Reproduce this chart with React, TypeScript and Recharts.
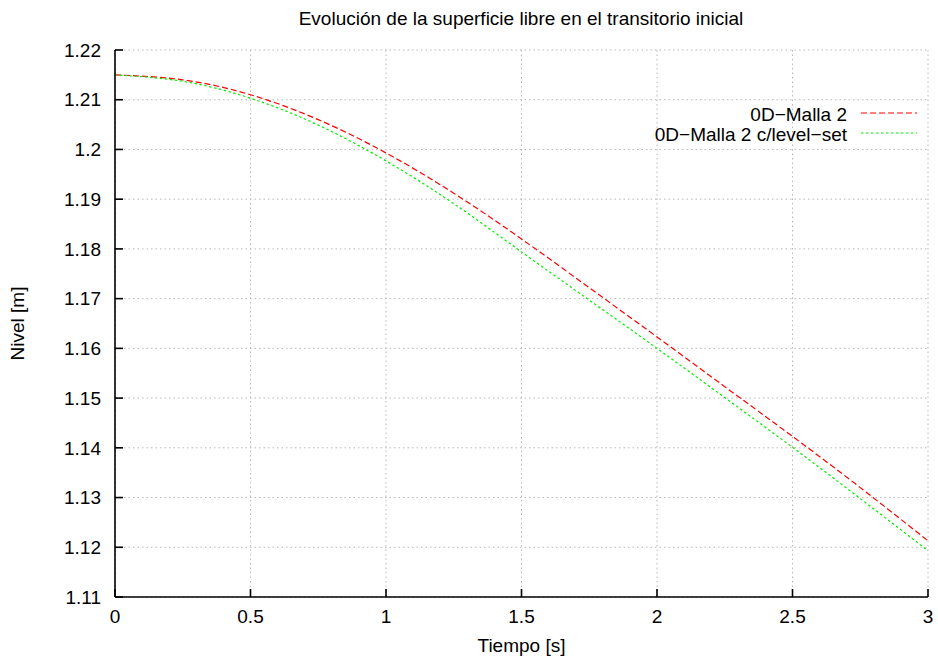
import {
  CartesianGrid,
  Line,
  LineChart,
  XAxis,
  YAxis,
} from 'recharts'

// tiempo [s] y nivel [m]
const tiempo = [0, 0.25, 0.5, 0.75, 1, 1.25, 1.5, 1.75, 2, 2.25, 2.5, 2.75, 3]
const nivelMalla2 = [
  1.215, 1.214, 1.211, 1.206, 1.1993, 1.1912, 1.182, 1.1722, 1.1623, 1.1523,
  1.1423, 1.132, 1.1213,
]
const nivelLevelSet = [
  1.215, 1.2137, 1.2103, 1.2049, 1.1977, 1.1891, 1.1794, 1.1697, 1.16,
  1.1501, 1.1401, 1.1298, 1.1193,
]

const xTicks = [0, 0.5, 1, 1.5, 2, 2.5, 3]
const yTicks = [
  1.11, 1.12, 1.13, 1.14, 1.15, 1.16, 1.17, 1.18, 1.19, 1.2, 1.21, 1.22,
]

const title = 'Evolución de la superficie libre en el transitorio inicial'

const series = [
  { key: 'malla2', name: '0D\u2212Malla 2', color: '#ff0000', dash: '6 3' },
  {
    key: 'levelSet',
    name: '0D\u2212Malla 2 c/level\u2212set',
    color: '#00ee00',
    dash: '2.5 2.5',
  },
]

const data = tiempo.map((t, i) => ({
  t,
  malla2: nivelMalla2[i],
  levelSet: nivelLevelSet[i],
}))

const FONT = '"Liberation Sans", Arial, Helvetica, sans-serif'
const tickStyle = { fontSize: 19, fill: '#000' }
const frame = { stroke: '#000', strokeWidth: 1.6 }

export default function App() {
  return (
    <div
      style={{
        position: 'absolute',
        left: 0,
        top: 0,
        width: 938,
        height: 659,
        background: '#fff',
        fontFamily: FONT,
      }}
    >
      <LineChart
        width={938}
        height={659}
        data={data}
        margin={{ top: 50, right: 10, bottom: 0, left: 0 }}
      >
        <CartesianGrid stroke="#b8b8b8" strokeDasharray="1.5 3" />
        <XAxis
          dataKey="t"
          type="number"
          domain={[0, 3]}
          ticks={xTicks}
          height={62}
          tickSize={-8}
          tickMargin={21}
          tick={tickStyle}
          stroke="#000"
          axisLine={frame}
          tickLine={frame}
          tickFormatter={(v) => String(v)}
          label={{
            value: 'Tiempo [s]',
            position: 'insideBottom',
            offset: 7,
            style: { fontSize: 19, fill: '#000' },
          }}
        />
        <XAxis
          xAxisId="top"
          orientation="top"
          dataKey="t"
          type="number"
          domain={[0, 3]}
          ticks={xTicks}
          height={0}
          tick={false}
          tickSize={-8}
          stroke="#000"
          axisLine={frame}
          tickLine={frame}
        />
        <YAxis
          type="number"
          domain={[1.11, 1.22]}
          ticks={yTicks}
          width={115}
          tickSize={-8}
          tickMargin={22}
          tick={tickStyle}
          stroke="#000"
          axisLine={frame}
          tickLine={frame}
          tickFormatter={(v) => String(v)}
          label={{
            content: ({ viewBox }: any) => {
              const cx = 24
              const cy = viewBox.y + viewBox.height / 2
              return (
                <text
                  x={cx}
                  y={cy}
                  transform={`rotate(-90, ${cx}, ${cy})`}
                  textAnchor="middle"
                  fontSize={19}
                  fill="#000"
                >
                  Nivel [m]
                </text>
              )
            },
          }}
        />
        <YAxis
          yAxisId="right"
          orientation="right"
          type="number"
          domain={[1.11, 1.22]}
          ticks={yTicks}
          width={0}
          tick={false}
          tickSize={-8}
          stroke="#000"
          axisLine={frame}
          tickLine={frame}
        />
        {series.map((s) => (
          <Line
            key={s.key}
            dataKey={s.key}
            name={s.name}
            type="natural"
            stroke={s.color}
            strokeWidth={1.2}
            strokeDasharray={s.dash}
            dot={false}
            activeDot={false}
            isAnimationActive={false}
          />
        ))}
      </LineChart>
      <svg
        width={938}
        height={659}
        style={{ position: 'absolute', left: 0, top: 0, pointerEvents: 'none' }}
      >
        <text
          x={521}
          y={25}
          textAnchor="middle"
          fontSize={19}
          fill="#000"
          fontFamily={FONT}
        >
          {title}
        </text>
        {series.map((s, i) => (
          <g key={s.key}>
            <text
              x={847}
              y={121 + i * 20}
              textAnchor="end"
              fontSize={19}
              fill="#000"
              fontFamily={FONT}
            >
              {s.name}
            </text>
            <line
              x1={861}
              x2={917}
              y1={113 + i * 20}
              y2={113 + i * 20}
              stroke={s.color}
              strokeWidth={1.2}
              strokeDasharray={s.dash}
            />
          </g>
        ))}
      </svg>
    </div>
  )
}
